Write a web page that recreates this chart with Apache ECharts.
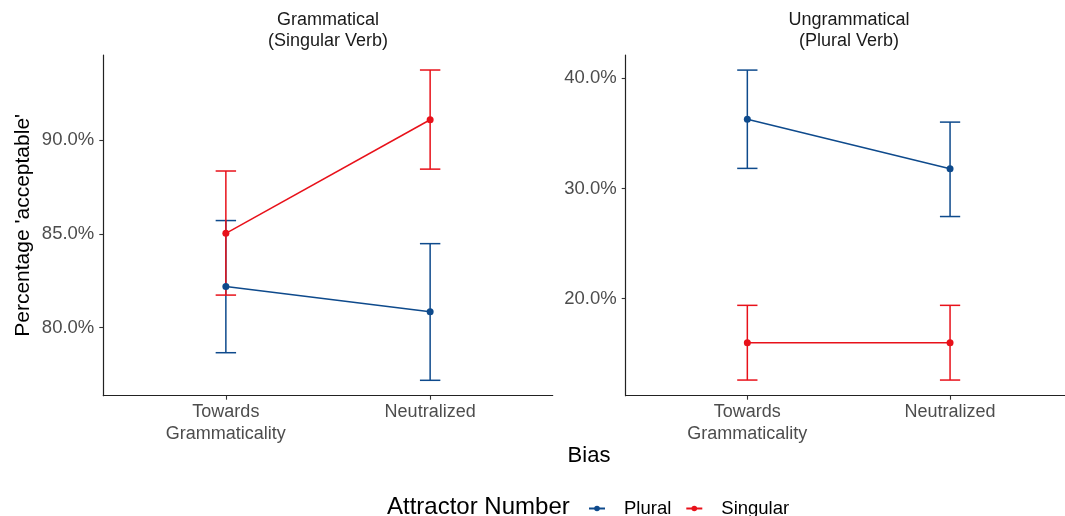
<!DOCTYPE html>
<html>
<head>
<meta charset="utf-8">
<script src="https://cdn.jsdelivr.net/npm/echarts@6/dist/echarts.min.js"></script>
<style>
html,body{margin:0;padding:0;background:#fff;}
#chart{width:1065px;height:516px;}
</style>
</head>
<body>
<div id="chart"></div>
<script>
// ---- data ----
const categories = ['Towards\nGrammaticality', 'Neutralized'];
const panelTitles = ['Grammatical\n(Singular Verb)', 'Ungrammatical\n(Plural Verb)'];
const seriesNames = ['Plural', 'Singular'];

// Grammatical panel (percent)
const gramPlural      = [82.20, 80.85];
const gramPluralLo    = [78.67, 77.20];
const gramPluralHi    = [85.71, 84.48];
const gramSingular    = [85.03, 91.08];
const gramSingularLo  = [81.74, 88.45];
const gramSingularHi  = [88.35, 93.73];

// Ungrammatical panel (percent)
const ungramPlural     = [36.28, 31.79];
const ungramPluralLo   = [31.83, 27.46];
const ungramPluralHi   = [40.75, 36.03];
const ungramSingular   = [16.00, 16.00];
const ungramSingularLo = [12.62, 12.62];
const ungramSingularHi = [19.40, 19.40];

const leftTicks  = [80, 85, 90];
const rightTicks = [20, 30, 40];

// ---- styling ----
const FONT = "'Liberation Sans', Arial, Helvetica, sans-serif";
const BLUE = '#0E4A8C';
const RED  = '#E8111A';
const CAP_HALF = 0.05;

const chart = echarts.init(document.getElementById('chart'), null, {renderer: 'canvas'});

function pts(vals) { return categories.map((c, i) => [i + 1, vals[i]]); }
function bars(lo, hi) { return categories.map((c, i) => [i + 1, lo[i], hi[i]]); }

function errSeries(name, lo, hi, color, gi) {
  return {
    type: 'custom', name: name, xAxisIndex: gi, yAxisIndex: gi, z: 2,
    encode: {x: 0, y: [1, 2]},
    data: bars(lo, hi),
    silent: true,
    renderItem: function (params, api) {
      const x = api.value(0), lo = api.value(1), hi = api.value(2);
      const t = api.coord([x, hi]), b = api.coord([x, lo]);
      const tl = api.coord([x - CAP_HALF, hi]), tr = api.coord([x + CAP_HALF, hi]);
      const bl = api.coord([x - CAP_HALF, lo]), br = api.coord([x + CAP_HALF, lo]);
      const st = {stroke: color, lineWidth: 1.5, fill: null};
      return {type: 'group', children: [
        {type: 'line', shape: {x1: t[0], y1: t[1], x2: b[0], y2: b[1]}, style: st},
        {type: 'line', shape: {x1: tl[0], y1: tl[1], x2: tr[0], y2: tr[1]}, style: st},
        {type: 'line', shape: {x1: bl[0], y1: bl[1], x2: br[0], y2: br[1]}, style: st}
      ]};
    }
  };
}

function lineSeries(name, vals, color, gi) {
  return {
    type: 'line', name: name, xAxisIndex: gi, yAxisIndex: gi, z: 3,
    data: pts(vals),
    symbol: 'circle', symbolSize: 7, showSymbol: true,
    lineStyle: {color: color, width: 1.5},
    itemStyle: {color: color},
    emphasis: {disabled: true}
  };
}

function xAxisDef(gi, min, max) {
  return {
    type: 'value', gridIndex: gi, min: min, max: max,
    axisLine: {show: true, lineStyle: {color: '#222', width: 1.2}},
    axisTick: {show: true, length: 4, lineStyle: {color: '#333', width: 1.1}, customValues: [1, 2]},
    axisLabel: {
      show: true, customValues: [1, 2], margin: 5,
      formatter: v => categories[Math.round(v) - 1] || '',
      color: '#4D4D4D', fontSize: 18, lineHeight: 22, fontFamily: FONT
    },
    splitLine: {show: false}
  };
}

function yAxisDef(gi, min, max, ticks, withName) {
  const ax = {
    type: 'value', gridIndex: gi, min: min, max: max,
    axisLine: {show: true, lineStyle: {color: '#222', width: 1.2}},
    axisTick: {show: true, length: 4, lineStyle: {color: '#333', width: 1.1}, customValues: ticks},
    axisLabel: {
      show: true, customValues: ticks, margin: 9,
      formatter: v => v.toFixed(1) + '%',
      color: '#4D4D4D', fontSize: 18.5, fontFamily: FONT
    },
    splitLine: {show: false}
  };
  if (withName) {
    ax.name = "Percentage 'acceptable'";
    ax.nameLocation = 'middle';
    ax.nameGap = 70;
    ax.nameTextStyle = {color: '#000', fontSize: 21, fontFamily: FONT};
  }
  return ax;
}

const GRID_TOP = 55, GRID_H = 340.7, GRID_W = 449.4;
const GRID_LEFTS = [103.3, 625.7];

const option = {
  animation: false,
  backgroundColor: '#fff',
  grid: [
    {left: GRID_LEFTS[0], top: GRID_TOP, width: GRID_W, height: GRID_H, containLabel: false},
    {left: GRID_LEFTS[1], top: GRID_TOP, right: 0, height: GRID_H, containLabel: false}
  ],
  // right panel is cut by the image edge: its visible part spans 0.4 .. 2.567
  xAxis: [xAxisDef(0, 0.4, 2.6), xAxisDef(1, 0.4, 2.567)],
  yAxis: [
    yAxisDef(0, 76.38, 94.53, leftTicks, true),
    yAxisDef(1, 11.20, 42.12, rightTicks, false)
  ],
  legend: {
    data: seriesNames,
    left: 583, top: 494,
    itemWidth: 16, itemHeight: 7, itemGap: 14,
    textStyle: {color: '#000', fontSize: 18.5, fontFamily: FONT, padding: [0, 0, 0, 14]},
    selectedMode: false
  },
  graphic: [
    {type: 'text', x: GRID_LEFTS[0] + GRID_W / 2, y: 10, style: {text: panelTitles[0], textAlign: 'center', fill: '#1A1A1A', fontSize: 18, lineHeight: 20.5, fontFamily: FONT}},
    {type: 'text', x: 849, y: 10, style: {text: panelTitles[1], textAlign: 'center', fill: '#1A1A1A', fontSize: 18, lineHeight: 20.5, fontFamily: FONT}},
    {type: 'text', x: 589, y: 456, style: {text: 'Bias', textAlign: 'center', textVerticalAlign: 'middle', fill: '#000', fontSize: 22, fontFamily: FONT}},
    {type: 'text', x: 387, y: 507, style: {text: 'Attractor Number', textAlign: 'left', textVerticalAlign: 'middle', fill: '#000', fontSize: 24, fontFamily: FONT}}
  ],
  series: [
    errSeries('Plural err g', gramPluralLo, gramPluralHi, BLUE, 0),
    errSeries('Singular err g', gramSingularLo, gramSingularHi, RED, 0),
    errSeries('Plural err u', ungramPluralLo, ungramPluralHi, BLUE, 1),
    errSeries('Singular err u', ungramSingularLo, ungramSingularHi, RED, 1),
    lineSeries('Plural', gramPlural, BLUE, 0),
    lineSeries('Singular', gramSingular, RED, 0),
    lineSeries('Plural', ungramPlural, BLUE, 1),
    lineSeries('Singular', ungramSingular, RED, 1)
  ]
};
chart.setOption(option);
</script>
</body>
</html>
